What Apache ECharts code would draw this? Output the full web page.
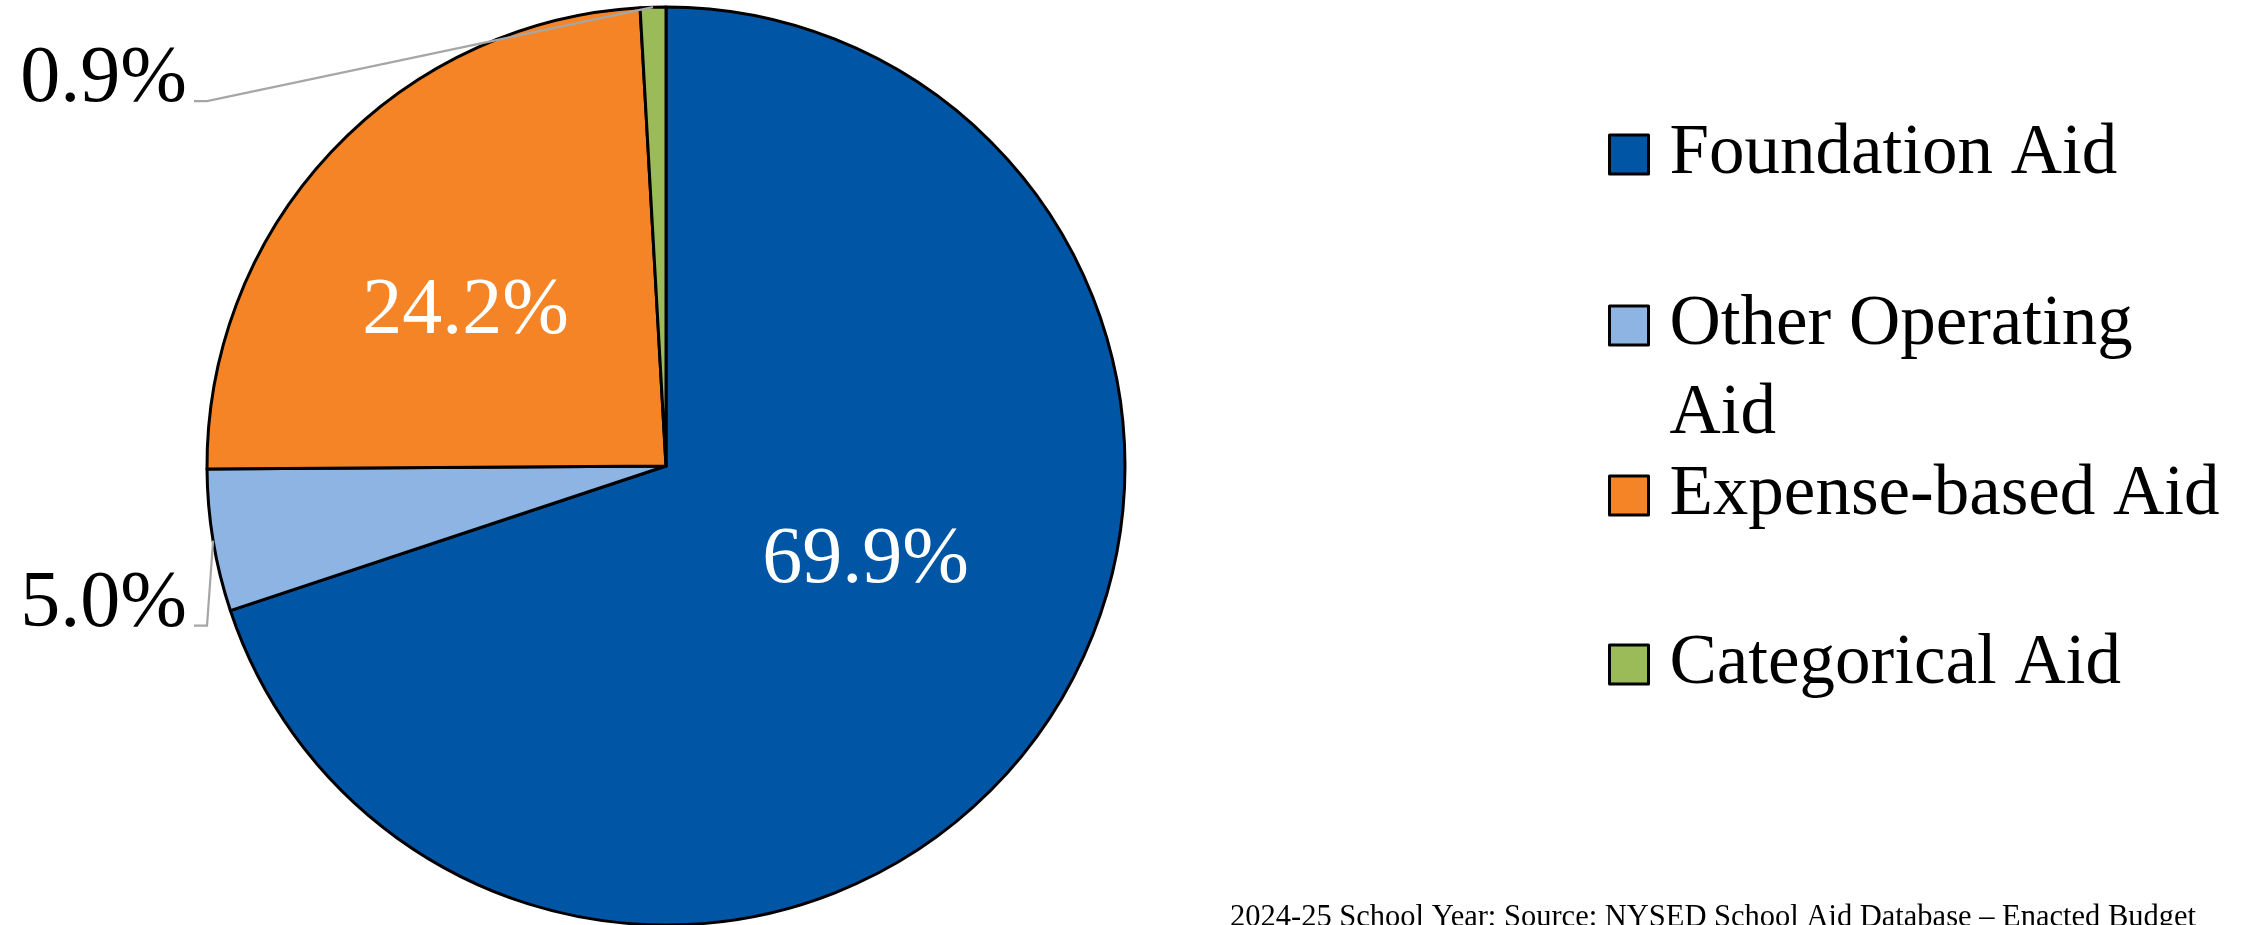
<!DOCTYPE html>
<html><head><meta charset="utf-8">
<script src="https://cdn.jsdelivr.net/npm/echarts@6/dist/echarts.min.js"></script>
<style>html,body{margin:0;padding:0;background:#fff}#chart{width:2241px;height:925px}</style>
</head><body><div id="chart"></div>
<script>
// ---- data ----
const categories = ['Foundation Aid', 'Other Operating Aid', 'Expense-based Aid', 'Categorical Aid'];
const shares = [69.9, 5.0, 24.2, 0.9];
const footnote = '2024-25 School Year; Source: NYSED School Aid Database – Enacted Budget';

// ---- styles / layout ----
const colors = ['#0055A4', '#8EB4E3', '#F58426', '#9BBB59'];
const FONT = '"Liberation Serif", "DejaVu Serif", serif';
const insideShift = {0: [11, -41], 2: [-31, 5]};
const outsideKnee = {1: {x: 207, dy: 85}, 3: {x: 207, dy: 94}};
const TAIL = 13, TEXT_GAP = 7;
const legendTops = [110, 192, 451, 620];
const lineStyle = {color: '#A6A6A6', width: 2.2};

const chart = echarts.init(document.getElementById('chart'), null, {renderer: 'canvas'});

const legends = categories.map((c, i) => ({
  data: [c], left: 1608, top: legendTops[i], orient: 'vertical', padding: 0,
  icon: 'rect', itemWidth: 39, itemHeight: 39,
  itemStyle: {borderColor: '#000', borderWidth: 3},
  textStyle: {fontFamily: FONT, fontSize: 71, color: '#000', lineHeight: 89, padding: [0, 0, 0, 16]},
  formatter: n => n === 'Other Operating Aid' ? ' \nOther Operating\nAid' : n,
  selectedMode: false
}));

chart.setOption({
  animation: false,
  backgroundColor: '#fff',
  title: {
    text: footnote, right: 45, top: 902, padding: 0,
    textStyle: {fontFamily: FONT, fontSize: 30.5, fontWeight: 'normal', color: '#000'}
  },
  legend: legends,
  series: [{
    type: 'pie', center: [666, 466], radius: 459, startAngle: 90, clockwise: true,
    avoidLabelOverlap: false,
    itemStyle: {borderColor: '#000', borderWidth: 3},
    emphasis: {disabled: true},
    label: {fontFamily: FONT, fontSize: 80, formatter: p => p.value.toFixed(1) + '%'},
    labelLine: {show: true, showAbove: true, length: 20, length2: 10, lineStyle: lineStyle},
    data: categories.map((c, i) => ({
      name: c, value: shares[i], itemStyle: {color: colors[i]},
      label: insideShift[i] ? {position: 'inside', color: '#fff'} : {position: 'outside', color: '#000'},
      labelLine: {show: !insideShift[i], showAbove: true, lineStyle: lineStyle}
    })),
    labelLayout: function (p) {
      const i = p.dataIndex;
      if (insideShift[i]) return {dx: insideShift[i][0], dy: insideShift[i][1]};
      const k = outsideKnee[i];
      const p0 = p.labelLinePoints[0];
      const ky = p0[1] + k.dy;
      return {
        x: k.x - TAIL - TEXT_GAP, y: ky - 21, align: 'right', verticalAlign: 'middle',
        labelLinePoints: [p0, [k.x, ky], [k.x - TAIL, ky]]
      };
    }
  }]
});
// keep guide lines above every sector
chart.getZr().storage.getDisplayList(true).forEach(el => {
  if (el.type === 'polyline') { el.z2 = 100; el.markRedraw(); }
});
</script></body></html>
